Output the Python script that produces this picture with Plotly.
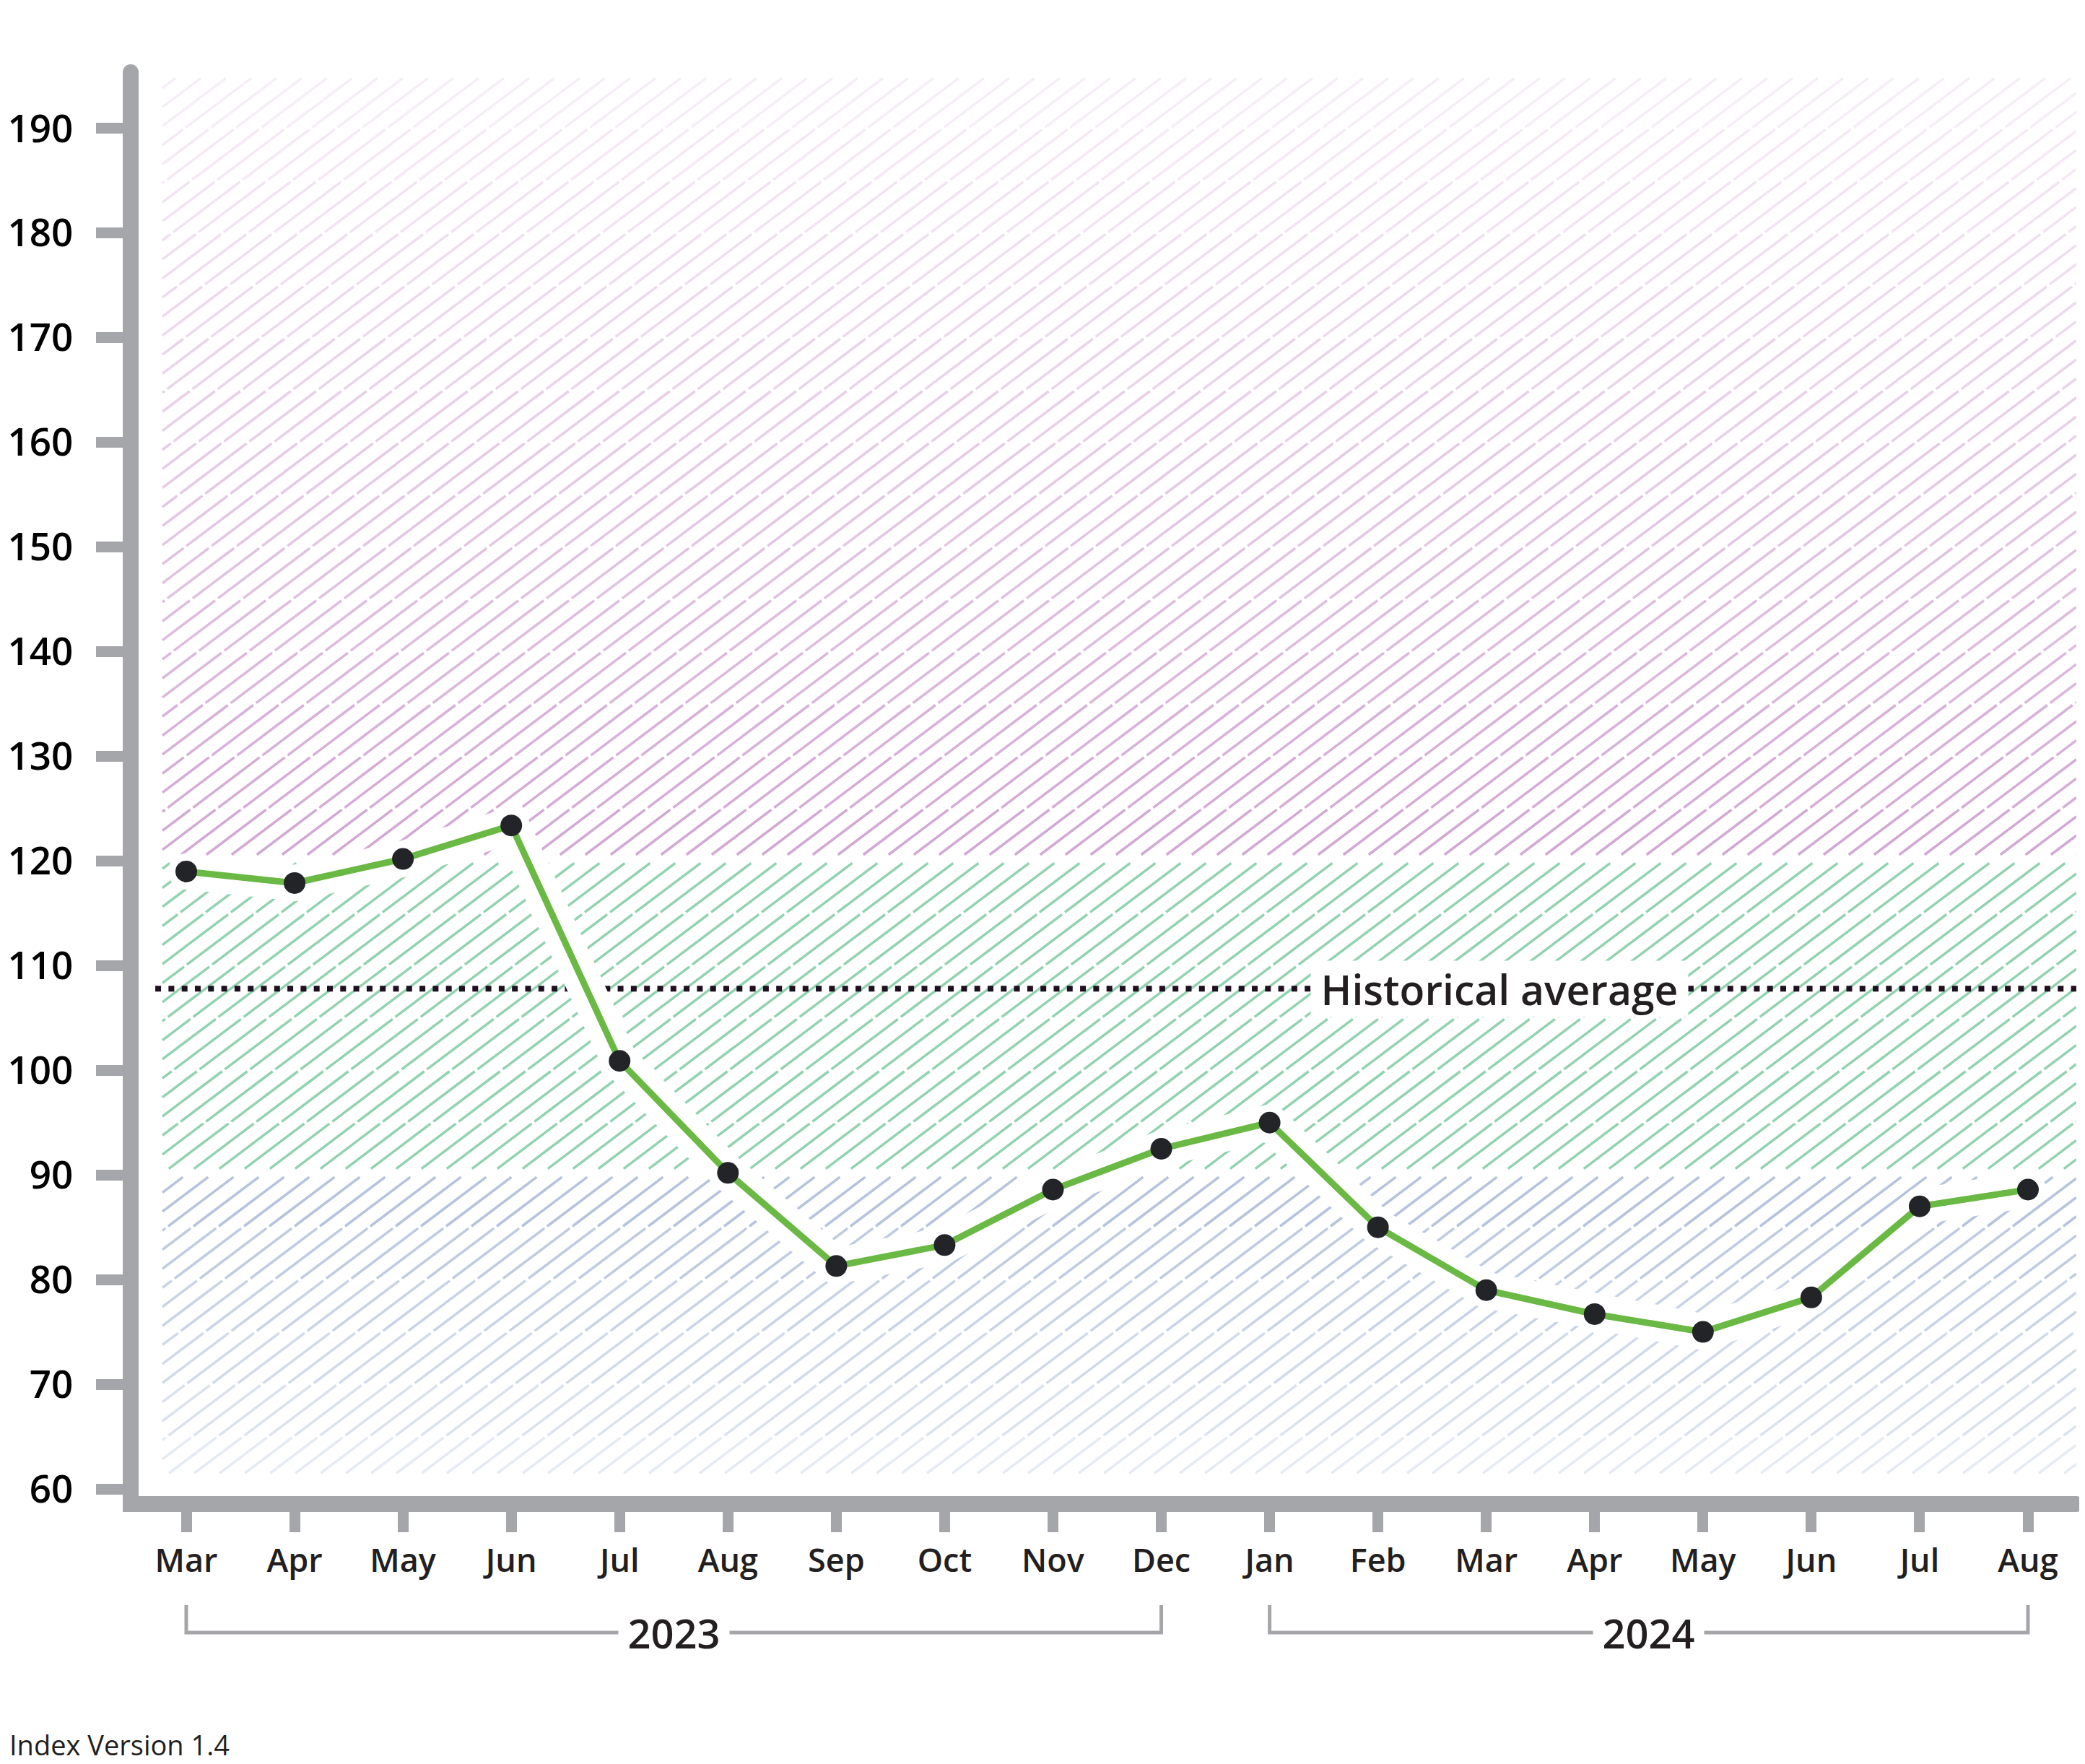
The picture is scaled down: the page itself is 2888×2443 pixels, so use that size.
import numpy as np
import plotly.graph_objects as go

# ---------------- data ----------------
months = ["Mar", "Apr", "May", "Jun", "Jul", "Aug", "Sep", "Oct", "Nov", "Dec",
          "Jan", "Feb", "Mar", "Apr", "May", "Jun", "Jul", "Aug"]
values = [119.0, 117.9, 120.2, 123.4, 100.9, 90.2, 81.3, 83.3, 88.6, 92.5,
          95.0, 85.0, 79.0, 76.7, 75.0, 78.3, 87.0, 88.6]
years = ["2023", "2024"]
year_first = [0, 10]          # index of first month of each year
year_last = [9, 17]           # index of last month of each year
historical_average = 107.8
y_ticks = list(range(60, 200, 10))
# zone bands: low / high bound
band_low = [61.5, 90.6, 120.6]
band_high = [89.8, 119.8, 194.8]

# ---------------- styles ----------------
FONT = "Open Sans"
AXIS_GREY = "#a5a6a9"
TEXT_DARK = "#231f20"
band_rgb = [(150, 170, 206), (110, 195, 150), (196, 140, 198)]
band_alpha = [(0.25, 0.70), (0.75, 0.75), (0.76, 0.15)]   # alpha at bottom, alpha at top

OFF = 8                      # page offset of the figure (body margin)
W, H = 2888 - OFF, 2443 - OFF
ML, MR, MT, MB = 192 - OFF, 12, 100 - OFF, 371
x_range = [-0.4398, 17.4465]
y_range = [59.31, 195.38]
sx = (W - ML - MR) / (x_range[1] - x_range[0])
sy = (H - MT - MB) / (y_range[1] - y_range[0])

x = list(range(len(months)))
fig = go.Figure()

# ---------------- hatched zones ----------------
T = np.tan(np.radians(37))
SPACING = 35.0
hatch_x0 = -0.22
GAP = 0.1


def hatch_segments(ya, yb, xa, xb):
    XA, XB = (xa - x_range[0]) * sx, (xb - x_range[0]) * sx
    YA, YB = (ya - y_range[0]) * sy, (yb - y_range[0]) * sy
    c_min = XA - YB / T
    c_max = XB - YA / T
    k0 = int(np.floor(c_min / SPACING))
    k1 = int(np.ceil(c_max / SPACING))
    xs, ys = [], []
    for k in range(k0, k1 + 1):
        c = k * SPACING
        X0, Y0 = c + YA / T, YA
        X1, Y1 = c + YB / T, YB
        if X0 < XA:
            X0, Y0 = XA, T * (XA - c)
        if X1 > XB:
            X1, Y1 = XB, T * (XB - c)
        if X1 <= X0 or Y1 <= Y0:
            continue
        xs += [x_range[0] + X0 / sx, x_range[0] + X1 / sx, None]
        ys += [y_range[0] + Y0 / sy, y_range[0] + Y1 / sy, None]
    return xs, ys


for lo, hi, rgb, (a_lo, a_hi) in zip(band_low, band_high, band_rgb, band_alpha):
    edges = [lo] + [v for v in range(int(np.ceil(lo / 5.0)) * 5, int(hi) + 1, 5) if lo < v < hi] + [hi]
    n = len(edges) - 1
    for i in range(n):
        a = edges[i] + (GAP if i > 0 else 0)
        b = edges[i + 1] - (GAP if i < n - 1 else 0)
        alpha = a_lo + (a_hi - a_lo) * (i / (n - 1) if n > 1 else 0)
        xs, ys = hatch_segments(a, b, hatch_x0, x_range[1])
        fig.add_trace(go.Scatter(
            x=xs, y=ys, mode="lines", hoverinfo="skip",
            line=dict(color=f"rgba({rgb[0]},{rgb[1]},{rgb[2]},{alpha:.3f})", width=3.5),
        ))

# ---------------- historical average ----------------
fig.add_trace(go.Scatter(
    x=[-0.286, x_range[1]], y=[historical_average, historical_average],
    mode="lines", hoverinfo="skip",
    line=dict(color="#1f1020", width=8, dash="8px,10.3px"),
))

# ---------------- index line ----------------
fig.add_trace(go.Scatter(
    x=x, y=values, mode="lines+markers", hoverinfo="skip",
    line=dict(color="white", width=50), marker=dict(color="white", size=50),
))
fig.add_trace(go.Scatter(
    x=x, y=values, mode="lines", hoverinfo="skip",
    line=dict(color="#69b944", width=9),
))
fig.add_trace(go.Scatter(
    x=x, y=values, mode="markers",
    marker=dict(color="#222428", size=30),
))

# ---------------- annotations ----------------
annotations = [dict(
    x=12.12, y=historical_average, xref="x", yref="y", text="Historical average",
    showarrow=False, bgcolor="white", width=522, height=77, borderpad=0,
    xanchor="center", yanchor="middle",
    font=dict(family=FONT, size=57, color=TEXT_DARK, weight=600),
)]
shapes = []
plot_h = H - MT - MB
bracket_top = (H - MB - (2223 - OFF)) / plot_h
bracket_bot = (H - MB - (2261 - OFF)) / plot_h
for yr, a, b in zip(years, year_first, year_last):
    shapes.append(dict(
        type="path", xref="x", yref="paper",
        path=f"M {a},{bracket_top} L {a},{bracket_bot} L {b},{bracket_bot} L {b},{bracket_top}",
        line=dict(color=AXIS_GREY, width=5),
    ))
    annotations.append(dict(
        x=(a + b) / 2, y=bracket_bot, xref="x", yref="paper", text=yr,
        showarrow=False, bgcolor="white", width=153, borderpad=0,
        xanchor="center", yanchor="middle",
        font=dict(family=FONT, size=56, color=TEXT_DARK, weight=600),
    ))
annotations.append(dict(
    x=(11 - OFF - ML) / (W - ML - MR), y=(H - MB - (2416 - OFF)) / plot_h,
    xref="paper", yref="paper", xanchor="left", yanchor="middle",
    text="Index Version 1.4", showarrow=False,
    font=dict(family=FONT, size=38, color=TEXT_DARK),
))
# rounded caps at the axis ends
shapes.append(dict(type="circle", xref="paper", yref="paper", xsizemode="pixel", ysizemode="pixel",
                   xanchor=0, yanchor=1, x0=-22, x1=0, y0=-11, y1=11,
                   fillcolor=AXIS_GREY, line=dict(width=0)))
shapes.append(dict(type="circle", xref="paper", yref="paper", xsizemode="pixel", ysizemode="pixel",
                   xanchor=1, yanchor=0, x0=-11, x1=11, y0=-22, y1=0,
                   fillcolor=AXIS_GREY, line=dict(width=0)))

fig.update_layout(
    width=W, height=H,
    margin=dict(l=ML, r=MR, t=MT, b=MB, pad=0, autoexpand=False),
    plot_bgcolor="white", paper_bgcolor="white",
    showlegend=False,
    font=dict(family=FONT, color=TEXT_DARK),
    annotations=annotations, shapes=shapes,
    xaxis=dict(
        range=x_range, tickmode="array", tickvals=x, ticktext=months,
        showgrid=False, zeroline=False, showline=True, linecolor=AXIS_GREY, linewidth=22,
        ticks="outside", ticklen=28, tickwidth=15, tickcolor=AXIS_GREY,
        tickfont=dict(family=FONT, size=45, color=TEXT_DARK, weight=600),
        ticklabelstandoff=1, fixedrange=True, automargin=False,
    ),
    yaxis=dict(
        range=y_range, tickmode="array", tickvals=y_ticks,
        showgrid=False, zeroline=False, showline=True, linecolor=AXIS_GREY, linewidth=22,
        ticks="outside", ticklen=37, tickwidth=15, tickcolor=AXIS_GREY,
        tickfont=dict(family=FONT, size=53, color="#000000", weight=600),
        ticklabelstandoff=21, fixedrange=True, automargin=False,
    ),
)

fig.write_html("out.html")
